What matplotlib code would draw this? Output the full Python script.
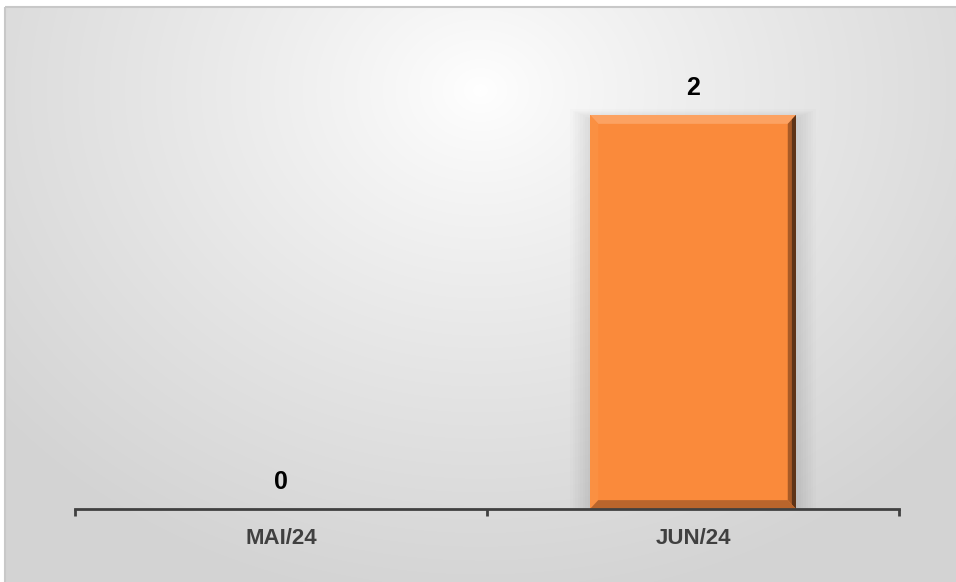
import numpy as np
import matplotlib.pyplot as plt
from matplotlib.patches import Rectangle, Polygon

# dados
meses = ['MAI/24', 'JUN/24']
valores = [0, 2]

W, H = 956, 582
fig = plt.figure(figsize=(W / 100, H / 100), dpi=100)
fig.patch.set_facecolor('white')

# fundo com degradê radial (estilo Excel)
bg = fig.add_axes([0, 0, 1, 1], zorder=0)
yy, xx = np.mgrid[0:H, 0:W]
r = np.sqrt((xx - 480.0) ** 2 + ((yy - 90.0) * 1.2) ** 2)
g = 1.0 - 0.17 * np.clip(r / 620.0, 0, 1) ** 0.85
img = np.dstack([g, g, g])
img[:7, :] = 1.0
img[:, :5] = 1.0
bg.imshow(img, extent=[0, W, H, 0], aspect='auto', interpolation='bilinear')
bg.add_patch(Rectangle((5, 7), W, H, fill=False, edgecolor='#c8c8c8', lw=1.5))
bg.set_xlim(0, W)
bg.set_ylim(H, 0)
bg.axis('off')

ax = fig.add_axes([75 / W, (H - 509) / H, (899 - 75) / W, (509 - 16.5) / H], zorder=1)
ax.patch.set_alpha(0)

x = np.arange(len(meses))
largura = 0.5
barras = ax.bar(x, valores, width=largura, color='#FA8A3B', zorder=3)
ax.set_xlim(-0.5, len(meses) - 0.5)
ax.set_ylim(0, 2.5)

# efeito de chanfro e sombra nas barras
bx, by = 0.02, 0.045
for b, v in zip(barras, valores):
    if v <= 0:
        continue
    x0, x1 = b.get_x(), b.get_x() + b.get_width()
    # sombra suave
    for k in range(8):
        d = 0.006 * (k + 1)
        ax.add_patch(Rectangle((x0 - d, 0), (x1 - x0) + 2 * d, v - 0.02 + d,
                               color='black', alpha=0.01, lw=0, zorder=2))
    ax.add_patch(Polygon([(x0, v), (x1, v), (x1 - bx, v - by), (x0 + bx, v - by)],
                         closed=True, color='#FCA262', lw=0, zorder=4))
    ax.add_patch(Polygon([(x0, v), (x0 + bx, v - by), (x0 + bx, by), (x0, 0)],
                         closed=True, color='#FA9042', lw=0, zorder=4))
    ax.add_patch(Polygon([(x1, v), (x1, 0), (x1 - bx, by), (x1 - bx, v - by)],
                         closed=True, color='#A85A26', lw=0, zorder=4))
    ax.add_patch(Polygon([(x1, v), (x1, 0), (x1 - bx / 2, by / 2), (x1 - bx / 2, v - by / 2)],
                         closed=True, color='#5E3418', lw=0, zorder=4))
    ax.add_patch(Polygon([(x0, 0), (x1, 0), (x1 - bx, by), (x0 + bx, by)],
                         closed=True, color='#B9652C', lw=0, zorder=4))

# rótulos de dados
for xi, v in zip(x, valores):
    ax.annotate(str(v), (xi, v), xytext=(0, 11), textcoords='offset points',
                ha='center', va='bottom', fontsize=18, fontweight='bold',
                family='Liberation Sans', color='black', zorder=5)

for s in ['top', 'right', 'left']:
    ax.spines[s].set_visible(False)
ax.spines['bottom'].set_color('#404040')
ax.spines['bottom'].set_linewidth(2)
ax.spines['bottom'].set_zorder(5)
ax.set_yticks([])
ax.set_xticks(np.arange(-0.5, len(meses)), minor=True)
ax.set_xticks(x)
ax.set_xticklabels(meses, fontsize=16, fontweight='bold',
                   family='Liberation Sans', color='#404040')
ax.tick_params(axis='x', which='major', length=0, pad=14)
ax.tick_params(axis='x', which='minor', length=5, width=2, color='#404040', direction='out')

fig.savefig('out.png', dpi=100)
